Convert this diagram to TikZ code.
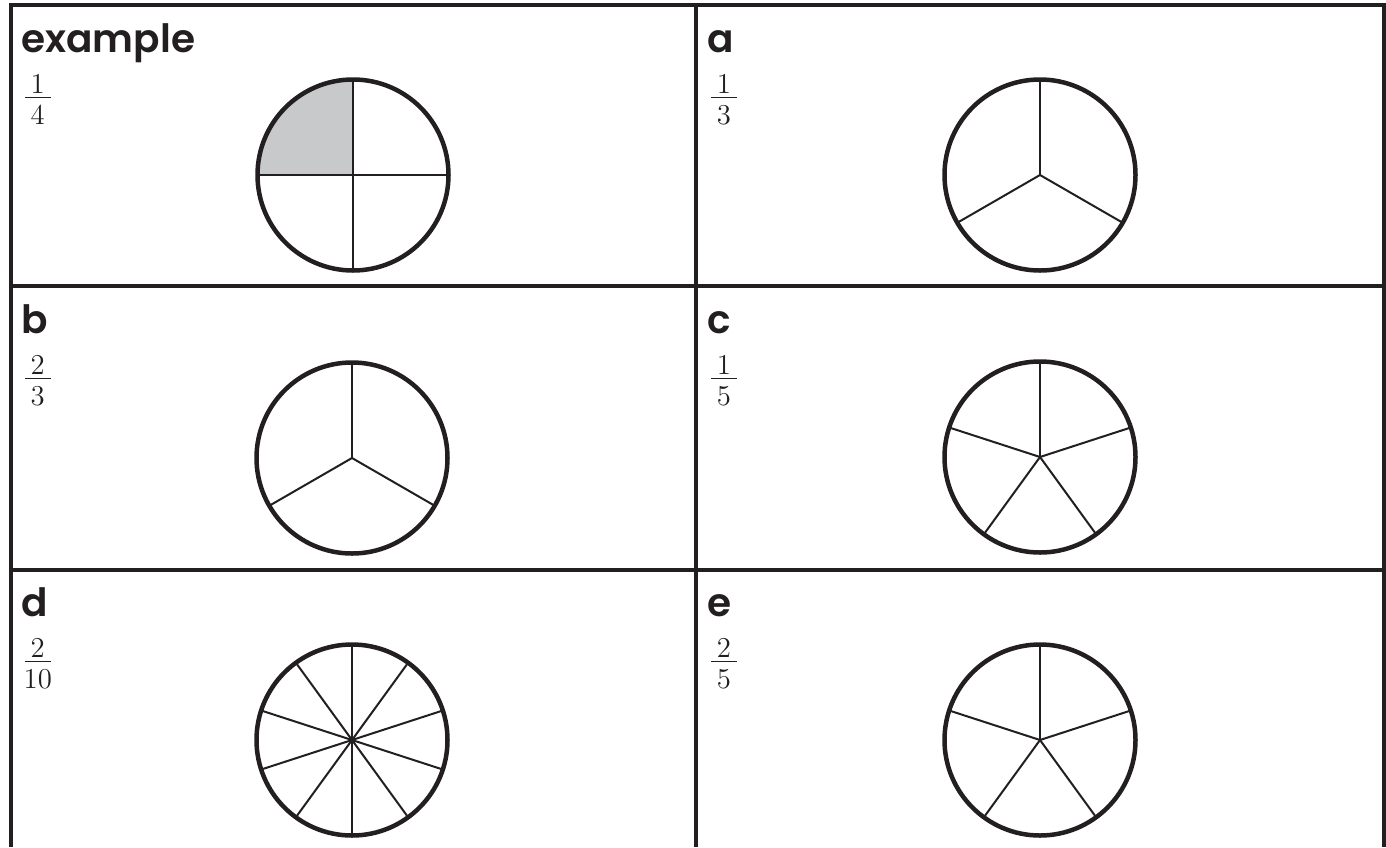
\documentclass[tikz,border=0pt]{standalone}
\usepackage{amsmath}
\usepackage{fontspec}
\newfontfamily\lblfont{Poppins SemiBold}
\usetikzlibrary{backgrounds}
\definecolor{ink}{HTML}{231F20}
\definecolor{greyfill}{HTML}{C8C9CB}
\tikzset{grid line/.style={line width=2pt, draw=ink}}
\tikzset{pie/.style={circle, draw=ink, line width=2.25pt, minimum size=95.5pt, inner sep=0pt, outer sep=0pt}}
\tikzset{spoke/.style={line width=1pt, draw=ink}}
\tikzset{tag/.style={anchor=base west, inner sep=0pt, text=ink, font=\lblfont\fontsize{19.5}{24}\selectfont}}
\tikzset{fracbox/.style={anchor=base west, inner sep=0pt, text=ink, font=\fontsize{13.5}{16}\selectfont}}
% spokes from the centre of a pie: #1 node, #2 start angle, #3 parts
\newcommand{\spokes}[3]{\foreach \k [evaluate=\k as \ang using {mod(#2+360*\k/#3,360)}] in {1,...,#3} {\draw[spoke] (#1.center) -- (#1.\ang);}}
% fraction with a bar of fixed width
\newcommand{\fr}[2]{$\frac{\hbox to 13pt{\hss$\textstyle #1$\hss}}{\hbox to 13pt{\hss\rule{0pt}{12.4pt}$\textstyle #2$\hss}}$}

\begin{document}
\begin{tikzpicture}[x=0.5pt, y=-0.5pt]
\useasboundingbox (0,0) rectangle (1386,847);
% table
\draw[grid line] (10.5,847) -- (10.5,5.3) -- (1383.5,5.3) -- (1383.5,847);
\draw[grid line] (696,5.3) -- (696,847);
\draw[grid line] (10.5,286) -- (1383.5,286);
\draw[grid line] (10.5,569.5) -- (1383.5,569.5);
% example
\node[tag] (tex) at (21,52) {example};
\node[fracbox] (fex) at (22,105) {\fr{1}{4}};
\node[pie] (pex) at (353,175) {};
\begin{pgfonlayer}{background}
\fill[greyfill] (pex.center) -- (pex.north) arc[start angle=90, end angle=180, radius=47.75pt] -- cycle;
\end{pgfonlayer}
\spokes{pex}{90}{4}
% a
\node[tag] (ta) at (707,52) {a};
\node[fracbox] (fa) at (708,105) {\fr{1}{3}};
\node[pie] (pa) at (1040,175) {};
\spokes{pa}{90}{3}
% b
\node[tag] (tb) at (21,333) {b};
\node[fracbox] (fb) at (22,386) {\fr{2}{3}};
\node[pie] (pb) at (352,458) {};
\spokes{pb}{90}{3}
% c
\node[tag] (tc) at (707,333) {c};
\node[fracbox] (fc) at (708,386) {\fr{1}{5}};
\node[pie] (pc) at (1040,457) {};
\spokes{pc}{90}{5}
% d
\node[tag] (td) at (21,616) {d};
\node[fracbox] (fd) at (22,669) {\fr{2}{10}};
\node[pie] (pd) at (352,740) {};
\spokes{pd}{90}{10}
% e
\node[tag] (te) at (707,616) {e};
\node[fracbox] (fe) at (708,669) {\fr{2}{5}};
\node[pie] (pe) at (1040,740) {};
\spokes{pe}{90}{5}
\end{tikzpicture}
\end{document}
